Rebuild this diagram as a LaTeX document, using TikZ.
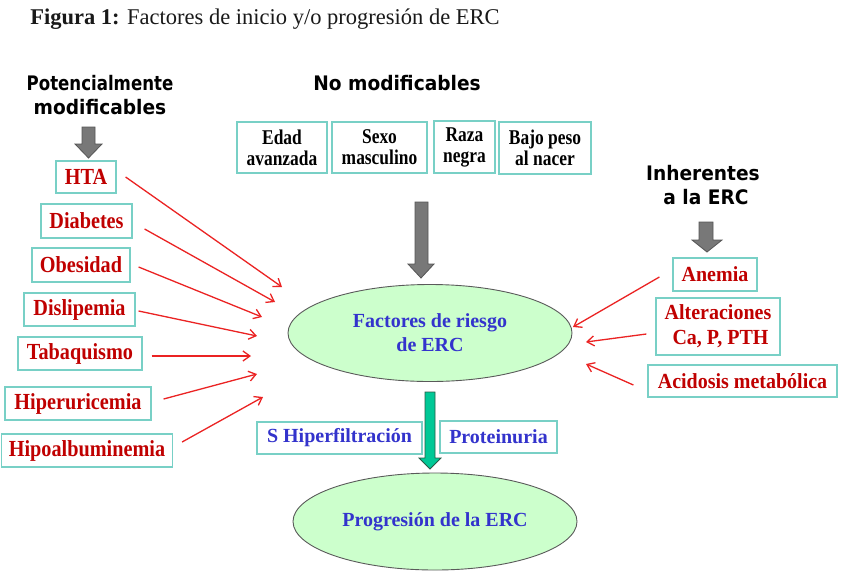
\documentclass[tikz,border=0pt]{standalone}
\usepackage{fontspec}
\setmainfont{Liberation Serif}
\newfontfamily\serifL{Liberation Serif}[FakeStretch=0.88]
\newfontfamily\serifR{Liberation Serif}[FakeStretch=0.93]
\newfontfamily\serifT{Liberation Serif}[FakeStretch=0.83]
\newfontfamily\headfont{DejaVu Sans}[FakeStretch=0.93]
\newfontfamily\headfontN{DejaVu Sans}[FakeStretch=0.83]
\usetikzlibrary{arrows.meta,shapes.geometric}
\definecolor{boxline}{RGB}{120,208,198}
\definecolor{redtxt}{RGB}{192,0,0}
\definecolor{bluetxt}{RGB}{51,51,204}
\definecolor{ellfill}{RGB}{204,255,204}
\definecolor{ellline}{RGB}{90,90,90}
\definecolor{grayfill}{RGB}{120,120,120}
\definecolor{grayedge}{RGB}{85,85,85}
\definecolor{greenfill}{RGB}{0,200,150}
\definecolor{greenedge}{RGB}{40,90,70}
\definecolor{redarrow}{RGB}{235,35,35}
\definecolor{titletxt}{RGB}{25,25,25}
\begin{document}
\begin{tikzpicture}[x=1pt,y=-1pt,
  tbox/.style={draw=boxline, line width=1.2pt, fill=white, inner sep=0pt, align=center},
  redbox/.style={tbox, text=redtxt, font=\serifL\bfseries\fontsize{23}{25}\selectfont},
  redboxr/.style={tbox, text=redtxt, font=\serifR\bfseries\fontsize{21.5}{25}\selectfont},
  blackbox/.style={tbox, text=black, font=\serifT\bfseries\fontsize{21}{21}\selectfont},
  bluebox/.style={tbox, text=bluetxt, font=\bfseries\fontsize{20}{24}\selectfont},
  ell/.style={ellipse, draw=ellline, line width=0.9pt, fill=ellfill, inner sep=0pt, align=center, text=bluetxt, font=\bfseries\fontsize{20}{24}\selectfont},
  heading/.style={align=center, font=\headfont\bfseries\fontsize{20}{24}\selectfont, text=black},
  redarr/.style={draw=redarrow, line width=1.3pt, -{Straight Barb[length=7pt,width=10pt,line width=1.3pt]}},
  grayblock/.style={draw=grayedge, fill=grayfill, line width=0.8pt, line join=miter},
  greenblock/.style={draw=greenedge, fill=greenfill, line width=0.8pt, line join=miter}
]
\useasboundingbox (0,0) rectangle (848,579);
\fill[white] (0,0) rectangle (848,579);

% title
\node[text=titletxt, font=\fontsize{22.5}{26}\selectfont] (title) at (265,19) {\textbf{Figura 1:} Factores de inicio y/o progresión de ERC};

% headings
\node[heading] (hpot) at (100,95) {{\headfontN\bfseries Potencialmente}\\modificables};
\node[heading] (hnom) at (397,83) {No modificables};
\node[heading] (hinh) at (703,185) {Inherentes\\\hspace*{6pt}a la ERC};

% gray block arrows
\draw[grayblock] (82,127) -- (95,127) -- (95,144) -- (102,144) -- (88.5,158) -- (75,144) -- (82,144) -- cycle;
\draw[grayblock] (415,202) -- (428,202) -- (428,264) -- (434,264) -- (421,278) -- (408,264) -- (415,264) -- cycle;
\draw[grayblock] (699,222) -- (713,222) -- (713,240) -- (722,240) -- (707,252) -- (692,240) -- (699,240) -- cycle;

% left boxes
\node[redbox, minimum width=60pt, minimum height=32pt] (hta) at (86,177) {HTA};
\node[redbox, minimum width=91pt, minimum height=34pt] (dia) at (86.5,221) {Diabetes};
\node[redbox, minimum width=98pt, minimum height=34pt] (obe) at (81,265) {Obesidad};
\node[redbox, minimum width=111pt, minimum height=33pt] (dis) at (79.5,309.5) {Dislipemia};
\node[redbox, minimum width=124pt, minimum height=33pt] (tab) at (80,353.5) {Tabaquismo};
\node[redbox, minimum width=146pt, minimum height=33pt] (hip) at (78,403.5) {Hiperuricemia};
\node[redbox, minimum width=171pt, minimum height=33pt] (alb) at (87,450.5) {Hipoalbuminemia};

% top boxes
\node[blackbox, minimum width=90pt, minimum height=51pt] (edad) at (282,147.5) {Edad\\avanzada};
\node[blackbox, minimum width=95pt, minimum height=51pt] (sexo) at (379.5,147.5) {Sexo\\masculino};
\node[blackbox, minimum width=61pt, minimum height=52pt] (raza) at (464.5,147) {Raza\\negra};
\node[blackbox, minimum width=92pt, minimum height=52pt] (bajo) at (545,148) {Bajo peso\\al nacer};

% right boxes
\node[redboxr, minimum width=84pt, minimum height=33pt] (ane) at (715,274.5) {Anemia};
\node[redboxr, minimum width=124pt, minimum height=57pt] (alt) at (718,326.5) {Alteraciones\\\hspace*{5pt}Ca, P, PTH};
\node[redboxr, minimum width=189pt, minimum height=32pt] (aci) at (742.5,381) {Acidosis metabólica};

% ellipses
\node[ell, minimum width=284pt, minimum height=97pt] (fr) at (430,333) {Factores de riesgo\\de ERC};
\node[ell, minimum width=284pt, minimum height=97pt] (prog) at (435,521.5) {Progresión de la ERC};

% green arrow
\draw[greenblock] (425,392) -- (435,392) -- (435,458) -- (441,458) -- (430,469) -- (419,458) -- (425,458) -- cycle;

% bottom boxes
\node[bluebox, minimum width=165pt, minimum height=32pt] (hf) at (339.5,438) {S Hiperfiltración};
\node[bluebox, minimum width=117pt, minimum height=32pt] (prot) at (498.5,437) {Proteinuria};

% arrow targets
\coordinate (tHTA) at (282,287);
\coordinate (tDia) at (275,302);
\coordinate (tObe) at (262,317);
\coordinate (tDis) at (257,336);
\coordinate (tTab) at (251,356);
\coordinate (tHip) at (257,374);
\coordinate (tAlb) at (263,397);
\coordinate (tAne) at (573,327);
\coordinate (tAlt) at (586,342);
\coordinate (tAci) at (586,364);

% red arrows
\draw[redarr] ([shift={(9,0)}]hta.east) -- (tHTA);
\draw[redarr] ([shift={(12,8)}]dia.east) -- (tDia);
\draw[redarr] ([shift={(8,2)}]obe.east) -- (tObe);
\draw[redarr] ([shift={(3,1.5)}]dis.east) -- (tDis);
\draw[redarr] ([shift={(9,2.5)}]tab.east) -- (tTab);
\draw[redarr] ([shift={(12,-4.5)}]hip.east) -- (tHip);
\draw[redarr] ([shift={(9,-8.5)}]alb.east) -- (tAlb);
\draw[redarr] ([shift={(-13,2.5)}]ane.west) -- (tAne);
\draw[redarr] ([shift={(-9,7.5)}]alt.west) -- (tAlt);
\draw[redarr] ([shift={(-14,4)}]aci.west) -- (tAci);
\end{tikzpicture}
\end{document}
